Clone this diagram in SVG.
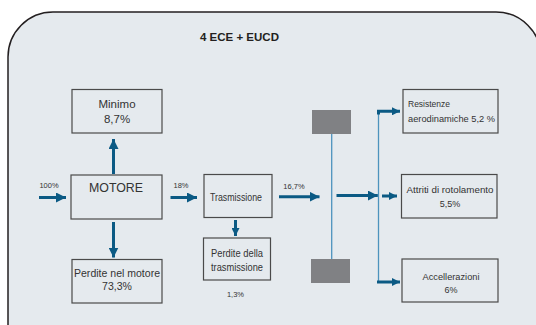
<svg xmlns="http://www.w3.org/2000/svg" width="536" height="325" viewBox="0 0 536 325">
<defs>
<style>
.box{fill:none;stroke:#4a4a4a;stroke-width:1.2}
.t{font-family:"Liberation Sans",Arial,sans-serif;fill:#333333;text-anchor:middle}
.s{font-size:7.5px}
.arr{stroke:#0b5a84;stroke-width:3;fill:none}
.thin{stroke:#4d93bd;stroke-width:1.3;fill:none}
.blk{fill:#808184}
</style>
<marker id="ah" markerUnits="userSpaceOnUse" markerWidth="10" markerHeight="10" refX="10" refY="5" orient="auto">
<path d="M0,0 L10,5 L0,10 z" fill="#0b5a84"/>
</marker>
<marker id="ahs" markerUnits="userSpaceOnUse" markerWidth="8" markerHeight="8" refX="8" refY="4" orient="auto">
<path d="M0,0 L8,4 L0,8 z" fill="#0b5a84"/>
</marker>
</defs>
<rect width="536" height="325" fill="#ffffff"/>
<path d="M8,330 L8,57 A45,45 0 0 1 53,12 L496,12 A45,45 0 0 1 541,57 L541,330 Z" fill="#e5eaee" stroke="#231f20" stroke-width="1.5"/>
<text x="239.5" y="40.5" font-family="'Liberation Sans',Arial,sans-serif" font-weight="bold" font-size="11.5" fill="#231f20" text-anchor="middle">4 ECE + EUCD</text>

<g id="connectors">
<line class="arr" x1="39" y1="197.5" x2="66" y2="197.5" marker-end="url(#ah)"/>
<line class="arr" x1="113.5" y1="174" x2="113.5" y2="139" marker-end="url(#ah)"/>
<line class="arr" x1="113.5" y1="222" x2="113.5" y2="257.5" marker-end="url(#ah)"/>
<line class="arr" x1="170.5" y1="197.5" x2="197" y2="197.5" marker-end="url(#ah)"/>
<line class="arr" x1="235.5" y1="220" x2="235.5" y2="236" marker-end="url(#ahs)"/>
<line class="arr" x1="279" y1="196.7" x2="319.5" y2="196.7" marker-end="url(#ah)"/>
<line class="thin" x1="331.7" y1="134" x2="331.7" y2="259"/>
<line class="thin" x1="378.5" y1="111.5" x2="378.5" y2="282"/>
<line class="arr" x1="336.5" y1="195.5" x2="377.8" y2="195.5" marker-end="url(#ah)"/>
<line class="arr" x1="382" y1="196" x2="397" y2="196" marker-end="url(#ahs)"/>
<polyline class="arr" points="378.5,114.5 378.5,111.3 400,111.3" marker-end="url(#ahs)"/>
<line class="arr" x1="377" y1="282" x2="400" y2="282" marker-end="url(#ahs)"/>
</g>

<g id="labels">
<text class="t s" x="49" y="188">100%</text>
<text class="t s" x="181" y="188">18%</text>
<text class="t s" x="294" y="189">16,7%</text>
<text class="t s" x="235.5" y="297">1,3%</text>
</g>

<g id="minimo">
<rect class="box" x="72" y="89.5" width="90" height="43.5"/>
<text class="t" x="117" y="107.7" font-size="11.5">Minimo</text>
<text class="t" x="117" y="122.7" font-size="11.5">8,7%</text>
</g>
<g id="motore">
<rect class="box" x="71" y="175" width="91" height="44"/>
<text class="t" x="116" y="191.7" font-size="13" textLength="54" lengthAdjust="spacingAndGlyphs">MOTORE</text>
</g>
<g id="perdite-motore">
<rect class="box" x="72" y="259.5" width="90" height="43.5"/>
<text class="t" x="117" y="276.5" font-size="10.5" textLength="86" lengthAdjust="spacingAndGlyphs">Perdite nel motore</text>
<text class="t" x="117" y="290" font-size="10.5">73,3%</text>
</g>
<g id="trasmissione">
<rect class="box" x="204" y="174.5" width="68" height="43"/>
<text class="t" x="236" y="200.5" font-size="10" textLength="52" lengthAdjust="spacingAndGlyphs">Trasmissione</text>
</g>
<g id="perdite-trasmissione">
<rect class="box" x="203.5" y="238" width="67" height="42"/>
<text class="t" x="237" y="256.7" font-size="10" textLength="52" lengthAdjust="spacingAndGlyphs">Perdite della</text>
<text class="t" x="237" y="271" font-size="10" textLength="52" lengthAdjust="spacingAndGlyphs">trasmissione</text>
</g>
<g id="blocco-alto">
<rect class="blk" x="312" y="110" width="39" height="24"/>
</g>
<g id="blocco-basso">
<rect class="blk" x="311" y="259" width="39" height="24"/>
</g>
<g id="resistenze">
<rect class="box" x="403" y="89.5" width="95" height="43.5"/>
<text class="t" x="408" y="107" font-size="9" style="text-anchor:start" textLength="42" lengthAdjust="spacingAndGlyphs">Resistenze</text>
<text class="t" x="408" y="121.5" font-size="9" style="text-anchor:start" textLength="87" lengthAdjust="spacingAndGlyphs">aerodinamiche 5,2 %</text>
</g>
<g id="attriti">
<rect class="box" x="401.5" y="174.5" width="95.5" height="43.5"/>
<text class="t" x="450" y="193.3" font-size="9" textLength="87" lengthAdjust="spacingAndGlyphs">Attriti di rotolamento</text>
<text class="t" x="450" y="207.3" font-size="9">5,5%</text>
</g>
<g id="accellerazioni">
<rect class="box" x="402" y="259" width="96" height="43"/>
<text class="t" x="451" y="280" font-size="9" textLength="57" lengthAdjust="spacingAndGlyphs">Accellerazioni</text>
<text class="t" x="451" y="292.7" font-size="9">6%</text>
</g>
</svg>
